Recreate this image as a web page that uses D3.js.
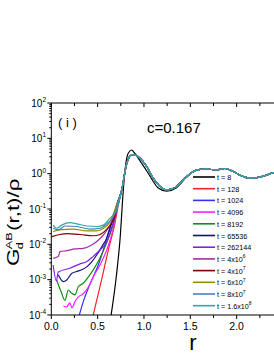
<!DOCTYPE html>
<html><head><meta charset="utf-8">
<script src="https://cdn.jsdelivr.net/npm/d3@7"></script>
<style>body{margin:0;background:#fff}svg{display:block}text{font-family:Arial,"Liberation Sans",sans-serif}</style>
</head><body>
<svg id="c" width="274" height="355"></svg>
<script>
// ---- data (r, G_d^AB/rho) ----
const tail = [[0.76,0.345],[0.81,1.76],[0.85,3.17],[0.885,3.45],[0.957,2.73],[1.03,1.58],[1.08,0.9],[1.137,0.55],[1.19,0.40],[1.245,0.345],[1.30,0.37],[1.35,0.43],[1.40,0.58],[1.46,0.82],[1.55,1.22],[1.62,1.33],[1.675,1.36],[1.73,1.31],[1.785,1.28],[1.874,1.40],[1.963,1.15],[2.05,0.87],[2.14,0.75],[2.25,0.80],[2.39,1.05],[2.5,1.3]];
const t8 = [[0.64,0.00008],[0.705,0.0015],[0.741,0.0133],[0.777,0.345],[0.80,1.58],[0.83,3.78],[0.867,4.68],[0.90,3.78],[0.975,1.97],[1.046,1.03],[1.10,0.6],[1.15,0.40],[1.245,0.32],[1.35,0.40],[1.46,0.80],[1.55,1.22]];
const t128 = [[0.44,0.00007],[0.453,0.0001],[0.543,0.001],[0.615,0.0069],[0.687,0.040],[0.72,0.117]];
const t1024 = [[0.29,0.00008],[0.302,0.0001],[0.345,0.00024],[0.40,0.00058],[0.453,0.0012],[0.507,0.0026],[0.561,0.0069],[0.615,0.021],[0.669,0.06],[0.723,0.18]];
const t4096 = [[0.13,0.00018],[0.166,0.00017],[0.20,0.00022],[0.223,0.00016],[0.256,0.00024],[0.29,0.00032],[0.345,0.0004],[0.40,0.00062],[0.453,0.0012],[0.525,0.0026],[0.598,0.0069],[0.666,0.026],[0.723,0.15]];
const t8192 = [[0.058,0.00098],[0.105,0.00046],[0.148,0.00026],[0.183,0.00051],[0.22,0.00041],[0.256,0.00037],[0.291,0.00063],[0.345,0.00079],[0.40,0.0012],[0.453,0.0019],[0.525,0.0041],[0.598,0.011],[0.666,0.035],[0.723,0.15]];
const t65536 = [[0.076,0.00135],[0.13,0.00088],[0.166,0.00098],[0.22,0.0015],[0.274,0.0017],[0.328,0.0019],[0.382,0.0023],[0.436,0.0032],[0.49,0.005],[0.544,0.0085],[0.598,0.015],[0.655,0.043],[0.709,0.14]];
const t262144 = [[0.02,0.0026],[0.055,0.00092],[0.075,0.00165],[0.20,0.0021],[0.31,0.0028],[0.38,0.0032],[0.45,0.0045],[0.525,0.0069],[0.598,0.012],[0.66,0.035],[0.72,0.13]];
const t4e6 = [[0.02,0.0040],[0.075,0.0045],[0.094,0.0062],[0.166,0.0066],[0.256,0.0074],[0.345,0.0077],[0.436,0.0096],[0.507,0.013],[0.58,0.021],[0.65,0.043],[0.71,0.13]];
const t4e7 = [[0.005,0.0165],[0.094,0.019],[0.166,0.020],[0.31,0.019],[0.453,0.0175],[0.525,0.019],[0.598,0.027],[0.669,0.049],[0.72,0.14]];
const t6e7 = [[0.02,0.023],[0.11,0.026],[0.236,0.027],[0.38,0.024],[0.49,0.024],[0.56,0.028],[0.634,0.044],[0.70,0.12]];
const t8e7 = [[0.02,0.0285],[0.076,0.0255],[0.148,0.033],[0.274,0.032],[0.418,0.027],[0.525,0.0285],[0.598,0.038],[0.669,0.06],[0.72,0.15]];
const t16e8 = [[0.02,0.035],[0.058,0.0285],[0.112,0.035],[0.20,0.041],[0.274,0.038],[0.382,0.033],[0.49,0.032],[0.56,0.035],[0.634,0.055],[0.705,0.094]];

const legendBase = ["t = 8","t = 128","t = 1024","t = 4096","t = 8192","t = 65536","t = 262144","t = 4x10","t = 4x10","t = 6x10","t = 8x10","t = 1.6x10"];
const legendExp  = ["","","","","","","","6","7","7","7","8"];
const colors = ["#000000","#ff2020","#3030ff","#ff20ff","#109010","#101080","#8020f0","#a030a0","#800000","#909000","#4a7fc0","#30a8a8"];

const xTicks = [0,0.5,1.0,1.5,2.0];
const yTickExp = [-4,-3,-2,-1,0,1,2];

// ---- drawing ----
const svg = d3.select("#c");
const L=51.3, R=283, T=103, B=315;
const x = d3.scaleLinear().domain([0,2.5]).range([L,R]);
const y = d3.scaleLog().domain([1e-4,1e2]).range([B,T]);

svg.append("clipPath").attr("id","clip").append("rect").attr("x",L).attr("y",T).attr("width",R-L).attr("height",B-T);

const series = [t8.concat(tail.filter(d=>d[0]>1.6)), t128.concat(tail), t1024.concat(tail), t4096.concat(tail), t8192.concat(tail), t65536.concat(tail), t262144.concat(tail), t4e6.concat(tail), t4e7.concat(tail), t6e7.concat(tail), t8e7.concat(tail), t16e8.concat(tail)];

const line = d3.line().x(d=>x(d[0])).y(d=>y(d[1])).curve(d3.curveMonotoneX);
const g = svg.append("g").attr("clip-path","url(#clip)");
series.forEach((s,i)=>{
  g.append("path").attr("d",line(s)).attr("fill","none").attr("stroke",colors[i]).attr("stroke-width",1.2);
});

// axes
const ax = svg.append("g").attr("stroke","#000").attr("stroke-width",1);
ax.append("line").attr("x1",L).attr("x2",R).attr("y1",B).attr("y2",B);
ax.append("line").attr("x1",L).attr("x2",R).attr("y1",T).attr("y2",T);
ax.append("line").attr("x1",L).attr("x2",L).attr("y1",T).attr("y2",B);
d3.range(0,2.51,0.25).forEach(v=>{
  const major = Math.abs(v*2-Math.round(v*2))<1e-6;
  ax.append("line").attr("x1",x(v)).attr("x2",x(v)).attr("y1",B).attr("y2",B+(major?4:3));
  ax.append("line").attr("x1",x(v)).attr("x2",x(v)).attr("y1",T).attr("y2",T+(major?4:3));
});
yTickExp.forEach(e=>{
  ax.append("line").attr("x1",L-4).attr("x2",L).attr("y1",y(Math.pow(10,e))).attr("y2",y(Math.pow(10,e)));
  if(e<2) for(let k=2;k<10;k++){const v=k*Math.pow(10,e);
    ax.append("line").attr("x1",L-2).attr("x2",L).attr("y1",y(v)).attr("y2",y(v));}
});
// tick labels
xTicks.forEach(v=>{
  svg.append("text").attr("x",x(v)).attr("y",B+15).attr("text-anchor","middle").attr("font-size",10.5).text(d3.format(".1f")(v));
});
yTickExp.forEach(e=>{
  const t = svg.append("text").attr("x",46).attr("y",y(Math.pow(10,e))+3.5).attr("text-anchor","end").attr("font-size",10);
  t.append("tspan").text("10");
  t.append("tspan").attr("font-size",6.5).attr("dy",-4.5).text(e);
});
// labels
svg.append("text").attr("x",58).attr("y",127).attr("font-size",13).text("( i )");
svg.append("text").attr("x",147).attr("y",133).attr("font-size",15).text("c=0.167");
svg.append("text").attr("x",193).attr("y",350).attr("text-anchor","middle").attr("font-family","'Liberation Serif','DejaVu Serif',serif").attr("font-size",22).text("r");
const yl = svg.append("g").attr("transform","translate(19,266) rotate(-90) scale(1.4,1)");
yl.append("text").attr("x",0).attr("y",0).attr("font-size",16).text("G");
yl.append("text").attr("x",12).attr("y",-7).attr("font-size",9).text("AB");
yl.append("text").attr("x",12).attr("y",4).attr("font-size",9).text("d");
yl.append("text").attr("x",25).attr("y",0).attr("font-size",16).text("(r,t)/\u03C1");

// legend
legendBase.forEach((lb,i)=>{
  const yy = 177 + i*11.7;
  svg.append("line").attr("x1",193).attr("x2",215).attr("y1",yy).attr("y2",yy).attr("stroke",colors[i]).attr("stroke-width",1.6);
  const t = svg.append("text").attr("x",217).attr("y",yy+3).attr("font-size",7.2);
  t.append("tspan").text(lb);
  if(legendExp[i]) t.append("tspan").attr("font-size",5).attr("dy",-3.5).text(legendExp[i]);
});
</script>
</body></html>
